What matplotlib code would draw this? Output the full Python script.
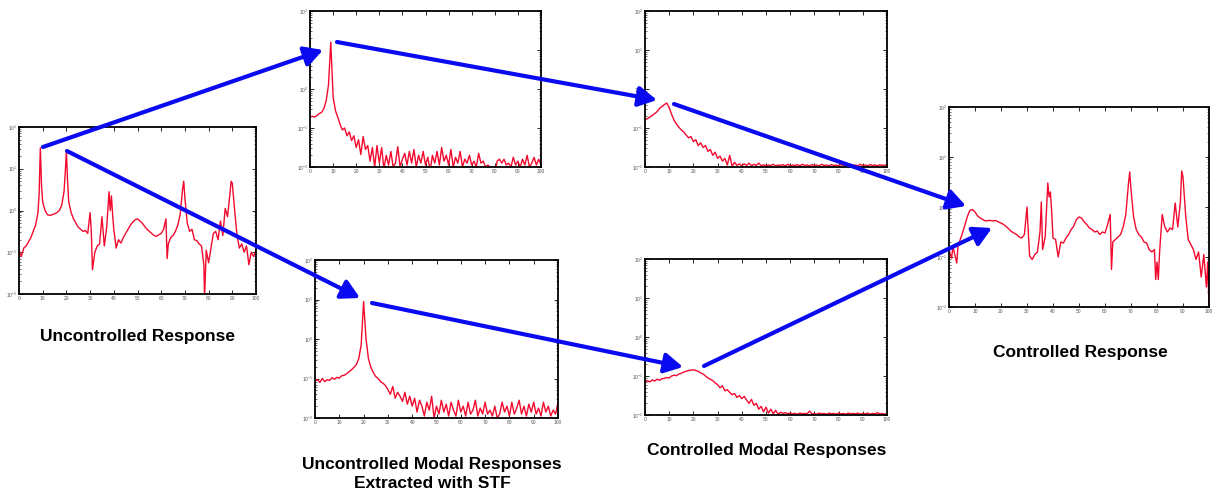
import numpy as np
from matplotlib import pyplot as plt
from matplotlib.patches import FancyArrowPatch

W, H = 1214, 496

# uncontrolled response (log10 amplitude)
unc_f = [0, 1, 2, 3, 4, 5, 6, 7, 8, 8.5,
         9, 9.5, 10, 11, 12, 13, 14, 15, 16, 17,
         18, 19, 19.5, 20, 20.5, 21, 22, 23, 24, 25,
         26, 27, 28, 29, 30, 30.5, 31, 32, 33, 34,
         35, 35.5, 36, 37, 38, 38.5, 39, 39.5, 40, 41,
         42, 43, 44, 45, 46, 47, 48, 49, 50, 51,
         52, 53, 54, 55, 56, 57, 58, 59, 60, 61,
         62, 62.5, 63, 64, 65, 66, 67, 68, 69, 69.5,
         70, 71, 72, 73, 74, 75, 76, 77, 78, 78.3,
         79, 80, 81, 82, 83, 84, 85, 86, 87, 88,
         89, 89.5, 90, 91, 92, 93, 94, 95, 96, 97,
         98, 99, 100]
unc_log = [-0.95, -1.1, -0.9, -0.85, -0.75, -0.65, -0.5, -0.35, -0.05, 0.4,
           1.5, 0.6, 0.2, 0.0, -0.1, -0.12, -0.1, -0.08, -0.05, 0.0,
           0.12, 0.45, 0.9, 1.42, 0.7, 0.2, -0.05, -0.2, -0.3, -0.4,
           -0.45, -0.5, -0.48, -0.55, -0.05, -0.5, -1.42, -1.0, -0.85, -0.8,
           -0.15, -0.5, -0.85, -0.4, 0.45, 0.0, 0.35, -0.1, -0.45, -0.9,
           -0.7, -0.78, -0.65, -0.55, -0.45, -0.35, -0.28, -0.22, -0.2, -0.25,
           -0.3, -0.38, -0.45, -0.5, -0.55, -0.6, -0.62, -0.58, -0.55, -0.45,
           -0.2, -1.15, -0.8, -0.65, -0.6, -0.5, -0.35, -0.1, 0.5, 0.7,
           0.3, -0.3, -0.5, -0.45, -0.7, -0.72, -0.8, -0.85, -1.3, -2.1,
           -0.95, -1.25, -0.9, -0.55, -0.5, -0.7, -0.25, -0.6, 0.05, -0.15,
           0.4, 0.7, 0.65, 0.0, -0.6, -0.9, -0.8, -1.0, -0.85, -1.3,
           -1.0, -1.1, -0.95]

# controlled response
con_f = [0, 0.5, 1, 1.5, 2, 3, 3.5, 4, 5, 6,
         7, 8, 9, 10, 11, 12, 13, 14, 15, 16,
         17, 18, 19, 20, 21, 22, 23, 24, 25, 26,
         27, 28, 29, 30, 30.5, 31, 32, 33, 34, 35,
         35.5, 36, 37, 38, 38.5, 39, 39.5, 40, 41, 42,
         43, 44, 45, 46, 47, 48, 49, 50, 51, 52,
         53, 54, 55, 56, 57, 58, 59, 60, 61, 62,
         62.5, 63, 64, 65, 66, 67, 68, 69, 69.5, 70,
         71, 72, 73, 74, 75, 76, 77, 78, 79, 79.5,
         80, 80.5, 81, 82, 83, 84, 85, 86, 87, 88,
         89, 89.5, 90, 91, 92, 93, 94, 95, 96, 97,
         98, 99, 99.5, 100]
con_log = [-0.85, -0.95, -1.02, -0.8, -0.9, -1.12, -0.75, -0.7, -0.55, -0.38,
           -0.2, -0.07, -0.05, -0.1, -0.18, -0.22, -0.25, -0.28, -0.27, -0.27,
           -0.28, -0.27, -0.3, -0.32, -0.35, -0.39, -0.44, -0.49, -0.52, -0.55,
           -0.6, -0.62, -0.55, 0.0, -0.5, -0.98, -1.05, -0.95, -0.9, -0.5,
           0.1, -0.85, -0.6, 0.48, 0.2, 0.3, -0.1, -0.62, -0.65, -1.0,
           -0.7, -0.72, -0.62, -0.55, -0.45, -0.38, -0.25, -0.2, -0.22, -0.3,
           -0.35, -0.42, -0.45, -0.5, -0.48, -0.55, -0.5, -0.52, -0.35, -0.15,
           -1.25, -0.7, -0.65, -0.6, -0.55, -0.4, -0.15, 0.45, 0.7, 0.35,
           -0.2, -0.45, -0.55, -0.6, -0.7, -0.72, -0.85, -0.9, -0.85, -1.45,
           -1.1, -1.45, -0.9, -0.15, -0.4, -0.5, -0.42, -0.45, 0.08, -0.4,
           0.1, 0.72, 0.6, -0.15, -0.65, -0.75, -0.85, -1.05, -0.9, -1.4,
           -0.95, -1.6, -1.1, -2.0]

# modal responses, 0..100 Hz in 1 Hz steps
modal_f = list(range(0, 101))
m1_unc_log = [-0.72, -0.7, -0.72, -0.68, -0.63, -0.6, -0.5, -0.3, 0.1, 1.2,
              -0.2, -0.55, -0.72, -0.9, -1.05, -1.0, -1.2, -1.1, -1.32, -1.2,
              -1.5, -1.3, -1.68, -1.22, -1.55, -1.45, -1.85, -1.5, -2.0, -1.45,
              -1.9, -1.5, -2.05, -1.7, -1.95, -1.6, -2.0, -1.9, -1.48, -2.0,
              -1.8, -1.65, -1.95, -1.6, -1.9, -1.55, -2.0, -1.7, -1.9, -1.6,
              -1.95, -1.75, -2.1, -1.7, -1.9, -1.6, -1.95, -1.5, -1.85, -1.7,
              -1.95, -1.55, -2.0, -1.75, -1.9, -1.6, -2.0, -1.8, -1.9, -1.7,
              -1.95, -1.85, -2.0, -1.65, -1.9, -1.85, -2.0, -1.95, -2.0, -2.1,
              -2.2, -1.85, -1.8, -1.9, -1.8, -1.95, -1.9, -2.0, -1.75, -1.95,
              -1.85, -2.0, -1.8, -1.95, -1.7, -2.0, -1.9, -1.75, -1.95, -1.8,
              -1.95]
m1_con_log = [-0.79, -0.76, -0.72, -0.68, -0.63, -0.58, -0.5, -0.45, -0.4, -0.36,
              -0.48, -0.65, -0.8, -0.9, -0.98, -1.05, -1.1, -1.18, -1.25, -1.22,
              -1.35, -1.3, -1.45, -1.38, -1.5, -1.45, -1.6, -1.55, -1.7, -1.62,
              -1.78, -1.72, -1.85, -1.78, -1.95, -1.7, -1.98, -1.88, -1.96, -1.92,
              -1.97, -1.92, -1.96, -1.9, -1.97, -1.93, -1.96, -1.9, -1.97, -1.94,
              -1.97, -1.95, -1.96, -1.93, -1.97, -1.95, -1.96, -1.94, -1.97, -1.93,
              -1.97, -1.95, -1.96, -1.94, -1.97, -1.93, -1.96, -1.95, -1.97, -1.94,
              -1.96, -1.95, -1.97, -1.93, -1.96, -1.95, -1.97, -1.94, -1.96, -1.95,
              -1.97, -1.94, -1.96, -1.95, -1.97, -1.93, -1.96, -1.95, -1.97, -1.93,
              -1.96, -1.95, -1.97, -1.94, -1.96, -1.95, -1.97, -1.94, -1.96, -1.95,
              -1.96]
m2_unc_log = [-1.07, -1.02, -1.1, -1.0, -1.08, -1.03, -1.05, -0.98, -1.02, -0.97,
              -0.99, -0.93, -0.92, -0.88, -0.83, -0.78, -0.72, -0.65, -0.5, -0.15,
              0.95, 0.0, -0.5, -0.72, -0.85, -0.95, -1.0, -1.08, -1.12, -1.18,
              -1.28, -1.4, -1.2, -1.5, -1.35, -1.45, -1.58, -1.35, -1.65, -1.45,
              -1.7, -1.5, -1.85, -1.55, -1.7, -1.95, -1.6, -1.8, -1.45, -2.0,
              -1.7, -1.9, -1.55, -1.85, -1.65, -1.95, -1.6, -1.8, -1.95, -1.55,
              -1.85, -1.7, -1.95, -1.6, -1.9, -1.8, -1.55, -1.95, -1.75, -1.9,
              -1.6, -1.9, -1.8, -1.95, -1.7, -2.0, -1.9, -1.6, -1.85, -1.7,
              -1.95, -1.6, -1.9, -1.75, -1.55, -1.9, -1.7, -1.95, -1.65, -1.85,
              -1.6, -1.9, -1.75, -1.95, -1.6, -1.85, -1.7, -1.95, -1.8, -1.9,
              -1.6]
m2_con_log = [-1.16, -1.12, -1.15, -1.1, -1.13, -1.08, -1.11, -1.07, -1.06, -1.04,
              -1.05, -1.0, -0.98, -0.99, -0.95, -0.93, -0.9, -0.88, -0.86, -0.85,
              -0.84, -0.86, -0.88, -0.92, -0.95, -1.0, -1.05, -1.08, -1.12, -1.18,
              -1.22, -1.3, -1.25, -1.38, -1.35, -1.42, -1.48, -1.45, -1.55, -1.5,
              -1.58, -1.52, -1.62, -1.7, -1.6, -1.75, -1.7, -1.85, -1.78, -1.92,
              -1.8, -1.95, -1.85, -1.97, -1.88, -1.98, -1.93, -1.96, -1.94, -1.97,
              -1.95, -1.97, -1.96, -1.98, -1.95, -1.97, -1.96, -1.97, -1.9, -1.97,
              -1.96, -1.98, -1.95, -1.97, -1.96, -1.98, -1.95, -1.97, -1.96, -1.98,
              -1.95, -1.97, -1.96, -1.98, -1.95, -1.97, -1.96, -1.97, -1.95, -1.98,
              -1.96, -1.97, -1.95, -1.98, -1.96, -1.97, -1.94, -1.97, -1.96, -1.98,
              -1.96]

RED = '#f20a2e'
BLUE = '#0a0af0'

fig = plt.figure(figsize=(W / 100, H / 100), dpi=100)
plt.rcParams['font.family'] = ['Liberation Sans', 'DejaVu Sans']


def px_axes(x0, y0, x1, y1):
    # pixel box -> figure fraction axes
    return fig.add_axes([x0 / W, 1 - y1 / H, (x1 - x0) / W, (y1 - y0) / H])


def spectrum(ax, f, logv):
    ax.plot(f, 10 ** np.array(logv), color=RED, lw=1.0)
    ax.set_yscale('log')
    ax.set_xlim(0, 100)
    ax.set_ylim(1e-2, 1e2)
    ax.set_xticks(range(0, 101, 10))
    ax.tick_params(axis='both', which='both', direction='in', top=True,
                   right=True, labelsize=3.5, labelcolor='#555555', pad=1.5)
    ax.tick_params(which='major', length=3, width=0.6)
    ax.tick_params(which='minor', length=1.5, width=0.4)
    for s in ax.spines.values():
        s.set_linewidth(1.3)


spectrum(px_axes(19, 127, 256, 294), unc_f, unc_log)
spectrum(px_axes(310, 11, 541, 167), modal_f, m1_unc_log)
spectrum(px_axes(645, 11, 887, 167), modal_f, m1_con_log)
spectrum(px_axes(315, 260, 558, 418), modal_f, m2_unc_log)
spectrum(px_axes(645, 259, 887, 415), modal_f, m2_con_log)
spectrum(px_axes(949, 107, 1209, 307), con_f, con_log)

# arrows in pixel coordinates (start, end)
arrows = [((43, 147), (323, 50)),
          ((337, 42), (657, 100)),
          ((674, 104), (966, 206)),
          ((67, 151), (360, 298)),
          ((372, 303), (683, 367)),
          ((704, 366), (992, 228))]
for (xa, ya), (xb, yb) in arrows:
    arr = FancyArrowPatch((xa / W, 1 - ya / H), (xb / W, 1 - yb / H),
                          transform=fig.transFigure,
                          arrowstyle='-|>,head_length=1.0,head_width=0.55',
                          mutation_scale=11, lw=3.0, color=BLUE,
                          shrinkA=0, shrinkB=0, zorder=10)
    fig.add_artist(arr)

lab = dict(ha='center', va='center', fontsize=12.5, fontweight='bold')
fig.text(137 / W, 1 - 337 / H, 'Uncontrolled Response', **lab)
fig.text(432 / W, 1 - 465 / H, 'Uncontrolled Modal Responses', **lab)
fig.text(432 / W, 1 - 483 / H, 'Extracted with STF', **lab)
fig.text(767 / W, 1 - 451 / H, 'Controlled Modal Responses', **lab)
fig.text(1080 / W, 1 - 353 / H, 'Controlled Response', **lab)

plt.savefig('out.png', dpi=100)
